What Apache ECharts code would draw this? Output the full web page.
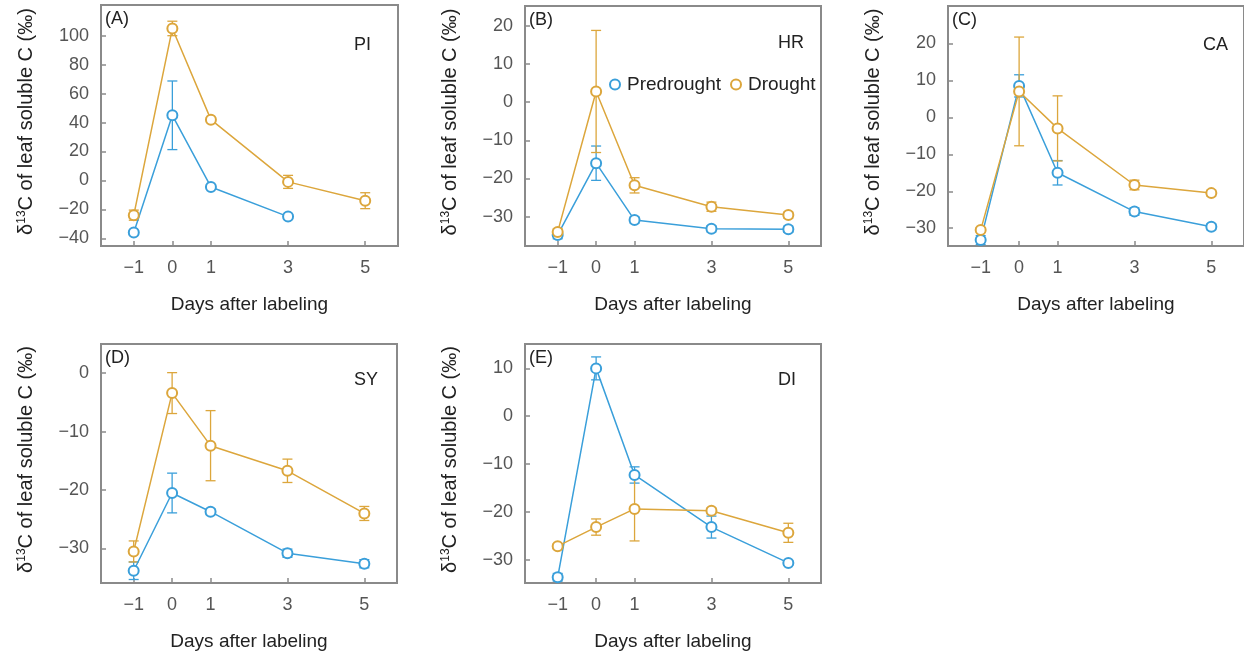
<!DOCTYPE html>
<html><head><meta charset="utf-8">
<script src="https://cdn.jsdelivr.net/npm/echarts@6/dist/echarts.min.js"></script>
<style>html,body{margin:0;padding:0;background:#fff}#c{width:1244px;height:652px}</style>
</head><body><div id="c"></div>
<script>
// ---- data ----
const days = [-1, 0, 1, 3, 5];
const xTicks = [-1, 0, 1, 3, 5];

const panelNames = ['PI', 'HR', 'CA', 'SY', 'DI'];
const panelTags = ['(A)', '(B)', '(C)', '(D)', '(E)'];

const preA = [-36, 45, -4.5, -25, null];
const preAErr = [1.5, 23.7, 1.5, 1.5, null];
const droA = [-24, 105, 42, -1, -14];
const droAErr = [3.5, 5, 1.5, 4.5, 5.5];

const preB = [-34.8, -16, -30.9, -33.2, -33.3];
const preBErr = [1, 4.5, 0.8, 0.8, 0.8];
const droB = [-34, 2.8, -21.8, -27.4, -29.6];
const droBErr = [0.8, 16, 2, 1.2, 0.8];

const preC = [-33.2, 8.5, -15, -25.5, -29.6];
const preCErr = [1.2, 3, 3.3, 1, 0.8];
const droC = [-30.5, 7, -3, -18.3, -20.5];
const droCErr = [0.6, 14.7, 8.8, 1.3, 0.8];

const preD = [-33.8, -20.5, -23.7, -30.8, -32.6];
const preDErr = [1.5, 3.4, 0.5, 0.7, 0.7];
const droD = [-30.5, -3.4, -12.4, -16.7, -24];
const droDErr = [1.8, 3.5, 6, 2, 1.2];

const preE = [-33.7, 10, -12.3, -23.2, -30.7];
const preEErr = [0.8, 2.4, 1.7, 2.3, 0.5];
const droE = [-27.2, -23.2, -19.4, -19.8, -24.4];
const droEErr = [0.5, 1.7, 6.7, 0.6, 2];

const yTicksA = [-40, -20, 0, 20, 40, 60, 80, 100];
const yTicksB = [-30, -20, -10, 0, 10, 20];
const yTicksC = [-30, -20, -10, 0, 10, 20];
const yTicksD = [-30, -20, -10, 0];
const yTicksE = [-30, -20, -10, 0, 10];

const yRanges = [[-45.3, 121.2], [-37.7, 25.2], [-34.8, 30.1], [-35.9, 5.0], [-34.9, 15.1]];
const xRange = [-1.85, 5.85];

// ---- layout / style ----
const BLUE = '#3a9fda';
const ORANGE = '#dca63c';
const FONT = 'Liberation Sans';
const grids = [
  {left: 101, top: 5, width: 297, height: 241},
  {left: 525, top: 6, width: 296, height: 240},
  {left: 948, top: 6, width: 297, height: 240},
  {left: 101, top: 344, width: 296, height: 239},
  {left: 525, top: 344, width: 296, height: 239}
];
// right edge x and vertical centre y of the species label in each panel
const nameAnchors = [[371, 45], [804, 43], [1228, 45], [378, 380], [796, 380]];

const panels = [
  {pre: preA, preErr: preAErr, dro: droA, droErr: droAErr, yt: yTicksA},
  {pre: preB, preErr: preBErr, dro: droB, droErr: droBErr, yt: yTicksB},
  {pre: preC, preErr: preCErr, dro: droC, droErr: droCErr, yt: yTicksC},
  {pre: preD, preErr: preDErr, dro: droD, droErr: droDErr, yt: yTicksD},
  {pre: preE, preErr: preEErr, dro: droE, droErr: droEErr, yt: yTicksE}
];

const fmt = v => String(v).replace('-', '\u2212');

function pts(vals) {
  const out = [];
  days.forEach((d, i) => { if (vals[i] != null) out.push([d, vals[i]]); });
  return out;
}
function errs(vals, e) {
  const out = [];
  days.forEach((d, i) => { if (vals[i] != null) out.push([d, vals[i] - e[i], vals[i] + e[i]]); });
  return out;
}
function errRender(params, api) {
  const x = api.value(0), lo = api.value(1), hi = api.value(2);
  const p1 = api.coord([x, hi]), p2 = api.coord([x, lo]);
  const w = 5;
  const style = {stroke: api.visual('color'), lineWidth: 1.3, fill: null};
  return {type: 'group', children: [
    {type: 'line', shape: {x1: p1[0], y1: p1[1], x2: p2[0], y2: p2[1]}, style: style},
    {type: 'line', shape: {x1: p1[0] - w, y1: p1[1], x2: p1[0] + w, y2: p1[1]}, style: style},
    {type: 'line', shape: {x1: p2[0] - w, y1: p2[1], x2: p2[0] + w, y2: p2[1]}, style: style}
  ]};
}

const option = {
  animation: false,
  textStyle: {fontFamily: FONT},
  grid: grids.map(g => Object.assign({show: true, borderColor: '#8a8a8a', borderWidth: 2, backgroundColor: 'transparent'}, g)),
  xAxis: grids.map((g, i) => ({
    type: 'value', gridIndex: i, min: xRange[0], max: xRange[1],
    name: 'Days after labeling', nameLocation: 'middle', nameGap: 49,
    nameTextStyle: {fontFamily: FONT, fontSize: 19, color: '#222'},
    axisLine: {show: true, onZero: false, lineStyle: {color: '#8a8a8a', width: 2}},
    axisTick: {show: true, inside: true, length: 5, customValues: xTicks, lineStyle: {color: '#8a8a8a', width: 1.5}},
    axisLabel: {customValues: xTicks, formatter: fmt, fontFamily: FONT, fontSize: 18, color: '#555', margin: 13},
    splitLine: {show: false}
  })),
  yAxis: grids.map((g, i) => ({
    type: 'value', gridIndex: i, min: yRanges[i][0], max: yRanges[i][1],
    name: '{n|\u03b4}{s|13}{n|C of leaf soluble C (\u2030)}', nameLocation: 'middle', nameGap: 64,
    nameTextStyle: {fontFamily: FONT, fontSize: 20, color: '#222', padding: [0, 0, 0, 8],
      rich: {n: {fontFamily: FONT, fontSize: 20, color: '#222'}, s: {fontFamily: FONT, fontSize: 12, color: '#222', verticalAlign: 'top', padding: [0, 0, 9, 0]}}},
    axisLine: {show: true, onZero: false, lineStyle: {color: '#8a8a8a', width: 2}},
    axisTick: {show: true, inside: true, length: 5, customValues: panels[i].yt, lineStyle: {color: '#8a8a8a', width: 1.5}},
    axisLabel: {customValues: panels[i].yt, formatter: fmt, fontFamily: FONT, fontSize: 18, color: '#555', margin: 12},
    splitLine: {show: false}
  })),
  legend: {
    left: 604, top: 70, itemGap: 9, itemWidth: 10, itemHeight: 10,
    icon: 'emptyCircle',
    textStyle: {fontFamily: FONT, fontSize: 19, color: '#222', padding: [0, 0, 0, 2]},
    data: [{name: 'Predrought', itemStyle: {color: BLUE, borderColor: BLUE, borderWidth: 1.5}},
           {name: 'Drought', itemStyle: {color: ORANGE, borderColor: ORANGE, borderWidth: 1.5}}]
  },
  graphic: [],
  series: []
};

panels.forEach((p, i) => {
  [['Predrought', p.pre, p.preErr, BLUE], ['Drought', p.dro, p.droErr, ORANGE]].forEach(([nm, v, e, col]) => {
    option.series.push({
      type: 'custom', name: nm, xAxisIndex: i, yAxisIndex: i, renderItem: errRender,
      itemStyle: {color: col}, data: errs(v, e), z: 3, clip: false, silent: true
    });
    option.series.push({
      type: 'line', name: nm, xAxisIndex: i, yAxisIndex: i, data: pts(v),
      symbol: 'emptyCircle', symbolSize: 10, clip: false,
      lineStyle: {color: col, width: 1.5}, itemStyle: {color: col, borderWidth: 1.8}, z: 4
    });
  });
  const g = grids[i];
  option.graphic.push({type: 'text', x: g.left + 4, y: g.top + 14,
    style: {text: panelTags[i], font: '18px "' + FONT + '"', fill: '#222', textVerticalAlign: 'middle'}});
  option.graphic.push({type: 'text', x: nameAnchors[i][0], y: nameAnchors[i][1],
    style: {text: panelNames[i], font: '18px "' + FONT + '"', fill: '#222', textAlign: 'right', textVerticalAlign: 'middle'}});
});

const chart = echarts.init(document.getElementById('c'), null, {renderer: 'canvas'});
chart.setOption(option);
</script></body></html>
